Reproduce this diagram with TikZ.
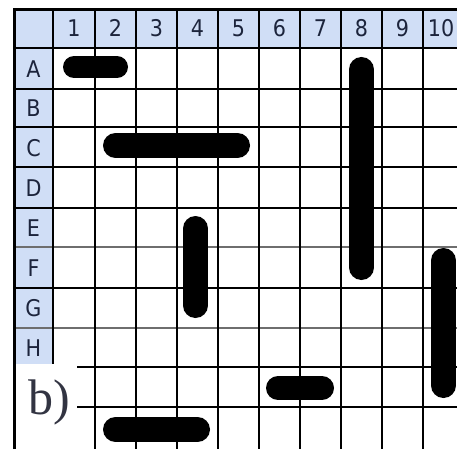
\documentclass[tikz,border=0pt]{standalone}
\usepackage{fontspec}
\newfontfamily\hdrfont{DejaVu Sans Condensed}
\newfontfamily\lblfont{Liberation Serif}
\definecolor{hdrblue}{RGB}{208,222,246}
\definecolor{hdrtext}{RGB}{28,36,60}
\definecolor{gridgray}{RGB}{110,110,110}
\definecolor{labelgray}{RGB}{50,52,66}
\tikzset{
  gridline/.style={line width=2.4pt, black},
  softline/.style={line width=2.8pt, gridgray},
  border/.style={line width=3pt, black},
  ship/.style={line width=24pt, line cap=round, black},
  hdr/.style={font=\hdrfont\fontsize{23}{23}\selectfont, text=hdrtext, inner sep=0pt},
  sublabel/.style={font=\lblfont\fontsize{50}{50}\selectfont, text=labelgray, inner sep=0pt}
}
\begin{document}
\begin{tikzpicture}[x=1pt,y=-1pt]
\useasboundingbox (0,0) rectangle (457,449);
\fill[white] (0,0) rectangle (457,449);
% header backgrounds
\fill[hdrblue] (14,10) rectangle (457,48);
\fill[hdrblue] (14,48) rectangle (53,364);
% horizontal lines
\foreach \y in {48,89,127,167,208,288} \draw[gridline] (14,\y) -- (457,\y);
\foreach \y in {247,328} \draw[softline] (14,\y) -- (457,\y);
\foreach \y in {367,407} \draw[gridline] (77,\y) -- (457,\y);
% vertical lines
\foreach \x in {95,136,177,218,259,300,341,382,423} \draw[gridline] (\x,10) -- (\x,449);
\draw[gridline] (53,10) -- (53,364);
% outer border
\draw[border] (14,449) -- (14,10) -- (457,10);
% ships
\draw[ship, line width=22pt] (74,67) -- (117,67);
\draw[ship, line width=25pt] (361.5,69.5) -- (361.5,267.5);
\draw[ship, line width=25pt] (115.5,145.5) -- (237.5,145.5);
\draw[ship, line width=25pt] (195.5,228.5) -- (195.5,305.5);
\draw[ship, line width=25pt] (443.5,260.5) -- (443.5,385.5);
\draw[ship, line width=24pt] (278,388) -- (322,388);
\draw[ship, line width=25pt] (115.5,429.5) -- (197.5,429.5);
% column headers
\node[hdr] (c1) at (74,28) {1};
\node[hdr] (c2) at (115.5,28) {2};
\node[hdr] (c3) at (156.5,28) {3};
\node[hdr] (c4) at (197.5,28) {4};
\node[hdr] (c5) at (238.5,28) {5};
\node[hdr] (c6) at (279.5,28) {6};
\node[hdr] (c7) at (320.5,28) {7};
\node[hdr] (c8) at (361.5,28) {8};
\node[hdr] (c9) at (402.5,28) {9};
\node[hdr] (c10) at (441,28) {10};
% row headers
\node[hdr] (rA) at (33.5,69) {A};
\node[hdr] (rB) at (33.5,108.5) {B};
\node[hdr] (rC) at (33.5,148) {C};
\node[hdr] (rD) at (33.5,188) {D};
\node[hdr] (rE) at (33.5,228) {E};
\node[hdr] (rF) at (33.5,268) {F};
\node[hdr] (rG) at (33.5,308.5) {G};
\node[hdr] (rH) at (33.5,348) {H};
% sub-figure label
\node[sublabel, anchor=base west] (lbl) at (28,414) {b)};
\end{tikzpicture}
\end{document}
